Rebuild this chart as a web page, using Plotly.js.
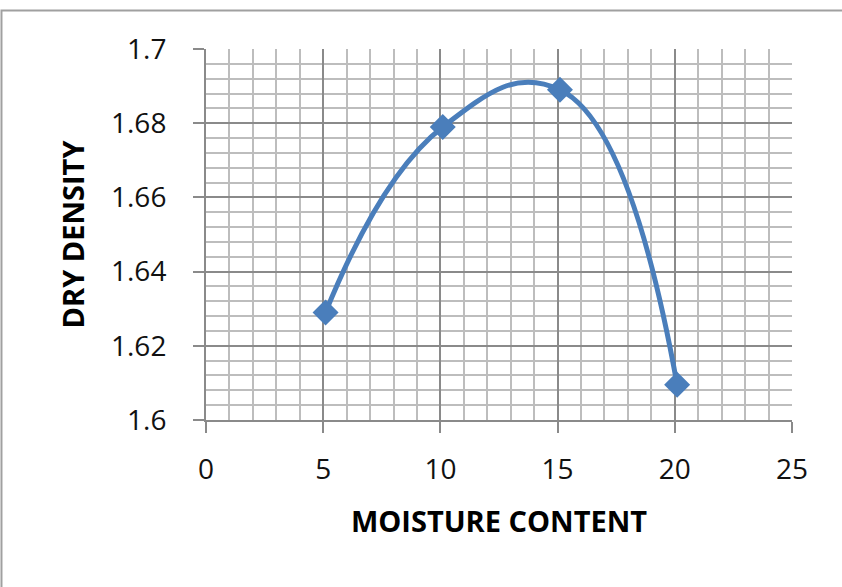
<!DOCTYPE html>
<html>
<head>
<meta charset="utf-8">
<script src="https://cdn.plot.ly/plotly-3.0.1.min.js"></script>
<style>
  html, body { margin: 0; padding: 0; background: #ffffff; }
  #chart { width: 842px; height: 587px; }
</style>
</head>
<body>
<div id="chart"></div>
<script>
// Compaction test: dry density against moisture content
const moistureContent = [5.1, 10.1, 15.1, 20.1];
const dryDensity = [1.629, 1.679, 1.689, 1.6095];

const xTickVals = [0, 5, 10, 15, 20, 25];
const xTickText = ['0', '5', '10', '15', '20', '25'];
const yTickVals = [1.6, 1.62, 1.64, 1.66, 1.68, 1.7];
const yTickText = ['1.6', '1.62', '1.64', '1.66', '1.68', '1.7'];

const tickFont = { family: 'Open Sans, sans-serif', size: 28, color: '#111111' };
const titleFont = { family: 'Open Sans, sans-serif', size: 29, color: '#000000', weight: 'bold' };

const trace = {
  x: moistureContent,
  y: dryDensity,
  type: 'scatter',
  mode: 'lines+markers',
  line: { shape: 'spline', smoothing: 1.3, color: '#4a7ebb', width: 5 },
  marker: { symbol: 'diamond', size: 20, color: '#4a7ebb' },
  hoverinfo: 'none'
};

const layout = {
  width: 842,
  height: 587,
  margin: { l: 206, r: 50, t: 49, b: 167 },
  paper_bgcolor: '#ffffff',
  plot_bgcolor: '#ffffff',
  showlegend: false,
  xaxis: {
    range: [0, 25],
    tickvals: xTickVals,
    ticktext: xTickText,
    ticks: 'outside',
    ticklen: 11,
    tickwidth: 2,
    tickcolor: '#8a8a8a',
    tickfont: tickFont,
    ticklabelstandoff: 12,
    showgrid: true,
    gridcolor: '#8a8a8a',
    gridwidth: 2,
    minor: { dtick: 1, showgrid: true, gridcolor: '#bdbdbd', gridwidth: 2 },
    showline: true,
    linecolor: '#8a8a8a',
    linewidth: 2,
    zeroline: false,
    title: { text: 'MOISTURE CONTENT', font: titleFont, standoff: 26 }
  },
  yaxis: {
    range: [1.6, 1.7],
    tickvals: yTickVals,
    ticktext: yTickText,
    ticks: 'outside',
    ticklen: 11,
    tickwidth: 2,
    tickcolor: '#8a8a8a',
    tickfont: tickFont,
    ticklabelstandoff: 21,
    showgrid: true,
    gridcolor: '#8a8a8a',
    gridwidth: 2,
    minor: { dtick: 0.004, showgrid: true, gridcolor: '#bdbdbd', gridwidth: 2 },
    showline: true,
    linecolor: '#8a8a8a',
    linewidth: 2,
    zeroline: false,
    title: { text: 'DRY DENSITY', font: titleFont, standoff: 18 }
  },
  shapes: [
    // outer chart frame, running off the right and bottom edges
    {
      type: 'rect', xref: 'paper', yref: 'paper',
      x0: -0.349, x1: 1.3, y0: -0.6, y1: 1.104,
      line: { color: '#a0a0a0', width: 2 },
      fillcolor: 'rgba(0,0,0,0)', layer: 'below'
    }
  ]
};

Plotly.newPlot('chart', [trace], layout, { staticPlot: true, displayModeBar: false });
</script>
</body>
</html>
